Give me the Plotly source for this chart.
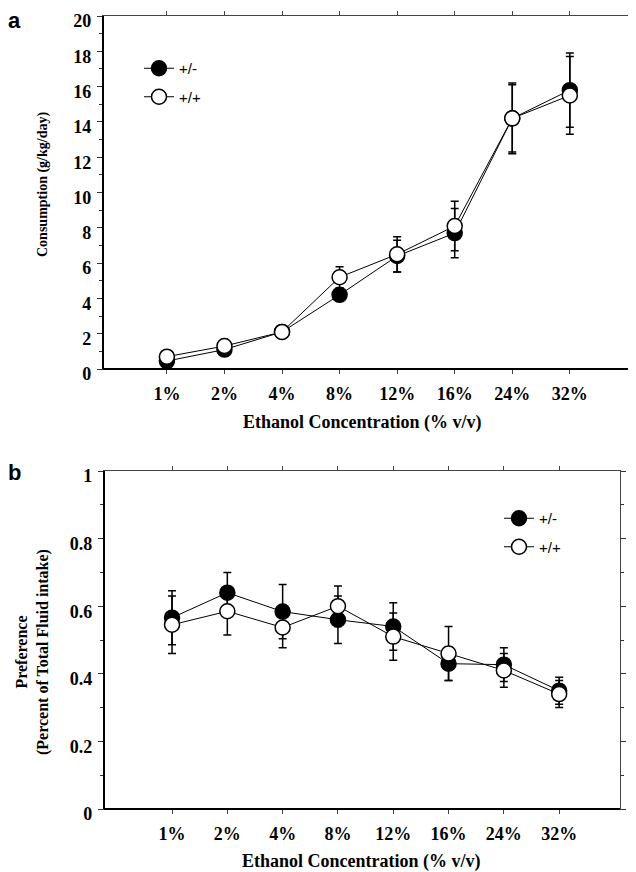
import plotly.graph_objects as go

# ---------------- data ----------------
concentrations = ["1%", "2%", "4%", "8%", "12%", "16%", "24%", "32%"]

consumption_het = [0.45, 1.1, 2.1, 4.2, 6.4, 7.7, 14.2, 15.8]
consumption_het_err = [0.15, 0.2, 0.2, 0.3, 0.9, 1.4, 2.0, 2.1]
consumption_wt = [0.7, 1.3, 2.1, 5.2, 6.5, 8.1, 14.2, 15.5]
consumption_wt_err = [0.15, 0.2, 0.2, 0.6, 1.0, 1.4, 1.9, 2.2]

preference_het = [0.566, 0.64, 0.584, 0.56, 0.54, 0.43, 0.427, 0.35]
preference_het_err = [0.08, 0.06, 0.08, 0.07, 0.07, 0.05, 0.05, 0.04]
preference_wt = [0.545, 0.585, 0.537, 0.60, 0.51, 0.46, 0.41, 0.34]
preference_wt_err = [0.085, 0.07, 0.06, 0.06, 0.07, 0.08, 0.05, 0.04]

series_names = ["+/-", "+/+"]
consumption_ticks = [0, 2, 4, 6, 8, 10, 12, 14, 16, 18, 20]
preference_ticks = [0, 0.2, 0.4, 0.6, 0.8, 1]

W, H = 636, 872
OFF = 8  # page body margin offset
SERIF = "Liberation Serif"
SANS = "Liberation Sans"


def px_x(v):
    return (v - OFF) / W


def px_y(v):
    return 1 - (v - OFF) / H


def make_trace(y, err, filled, name, xa, ya, legend):
    return go.Scatter(
        x=concentrations, y=y, name=name, xaxis=xa, yaxis=ya, legend=legend,
        legendgroup=name + legend,
        mode="lines+markers",
        line=dict(color="black", width=1),
        marker=dict(symbol="circle", size=15,
                    color="black" if filled else "white",
                    line=dict(color="black", width=1.5)),
        error_y=dict(type="data", array=err, color="black", thickness=1.5, width=4),
    )


fig = go.Figure()
fig.add_trace(make_trace(consumption_het, consumption_het_err, True, series_names[0], "x", "y", "legend"))
fig.add_trace(make_trace(consumption_wt, consumption_wt_err, False, series_names[1], "x", "y", "legend"))
fig.add_trace(make_trace(preference_het, preference_het_err, True, series_names[0], "x2", "y2", "legend2"))
fig.add_trace(make_trace(preference_wt, preference_wt_err, False, series_names[1], "x2", "y2", "legend2"))

tickfont = dict(family=SERIF, size=18, color="black", weight="bold")

common_x = dict(
    type="category", showgrid=False, zeroline=False, automargin=False,
    showline=True, linecolor="#444", linewidth=1.3, mirror="ticks",
    ticks="outside", ticklen=4, tickcolor="#444", tickwidth=1,
    tickfont=tickfont, ticklabelstandoff=4, ticklabeloverflow="allow",
)
common_y = dict(
    showgrid=False, zeroline=False, automargin=False,
    showline=True, linecolor="#444", linewidth=1.3, mirror="ticks",
    ticks="outside", ticklen=5, tickcolor="#333", tickwidth=1,
    tickfont=tickfont, ticklabelstandoff=2, ticklabeloverflow="allow",
    ticklabelshift=5,
)

fig.update_layout(
    width=W, height=H,
    margin=dict(l=0, r=0, t=0, b=0, autoexpand=False),
    paper_bgcolor="white", plot_bgcolor="white",
    xaxis=dict(common_x, domain=[px_x(103), px_x(632)], anchor="y", range=[-1.11, 8.08]),
    yaxis=dict(common_y, domain=[px_y(369), px_y(16)], anchor="x", range=[0, 20],
               tickvals=consumption_ticks,
               minor=dict(dtick=1, ticks="outside", ticklen=3, tickcolor="#333")),
    xaxis2=dict(common_x, domain=[px_x(104), px_x(620)], anchor="y2", range=[-1.23, 8.10]),
    yaxis2=dict(common_y, domain=[px_y(809), px_y(471)], anchor="x2", range=[0, 1],
                tickvals=preference_ticks,
                minor=dict(dtick=0.1, ticks="outside", ticklen=3, tickcolor="#333")),
    legend=dict(x=px_x(139), y=px_y(52), xanchor="left", yanchor="top",
                bgcolor="rgba(0,0,0,0)", font=dict(family=SANS, size=15, color="black"),
                tracegroupgap=6),
    legend2=dict(x=px_x(499), y=px_y(502), xanchor="left", yanchor="top",
                 bgcolor="rgba(0,0,0,0)", font=dict(family=SANS, size=15, color="black"),
                 tracegroupgap=6),
    showlegend=True,
)

# heavier left / bottom axis lines
for xr, yr in [("x", "y"), ("x2", "y2")]:
    fig.add_shape(type="line", xref=f"{xr} domain", yref=f"{yr} domain",
                  x0=0, x1=0, y0=0, y1=1, line=dict(color="black", width=2))
    fig.add_shape(type="line", xref=f"{xr} domain", yref=f"{yr} domain",
                  x0=0, x1=1, y0=0, y1=0, line=dict(color="black", width=2))


def label(text, x, y, size, family=SERIF, angle=0):
    fig.add_annotation(text=text, x=px_x(x), y=px_y(y), xref="paper", yref="paper",
                       xanchor="center", yanchor="middle", showarrow=False,
                       textangle=angle,
                       font=dict(family=family, size=size, color="black", weight="bold"))


label("a", 14, 20, 22, family=SANS)
label("b", 14, 472, 22, family=SANS)
label("Consumption (g/kg/day)", 43, 185, 14, angle=-90)
label("Preference<br>(Percent of Total Fluid intake)", 32, 652, 16, angle=-90)
label("Ethanol Concentration (% v/v)", 362, 422, 18)
label("Ethanol Concentration (% v/v)", 361, 861, 18)

fig.write_html("out.html")
